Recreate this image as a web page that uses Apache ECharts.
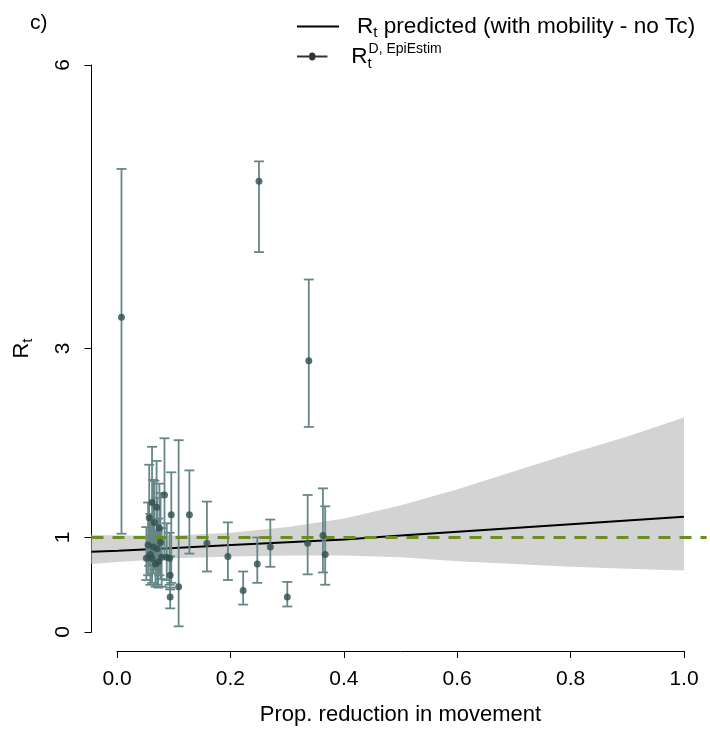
<!DOCTYPE html>
<html><head><meta charset="utf-8">
<script src="https://cdn.jsdelivr.net/npm/echarts@6/dist/echarts.min.js"></script>
<style>html,body{margin:0;padding:0;background:#fff}#c{width:710px;height:731px}</style>
</head><body><div id="c"></div>
<script>
// ---- data ----
const pointX     = [0.006, 0.249, 0.337, 0.126, 0.157, 0.194, 0.221, 0.246, 0.269, 0.299, 0.335, 0.362, 0.366, 0.107, 0.092,
                    0.050, 0.053, 0.055, 0.057, 0.060, 0.060, 0.062, 0.064, 0.066, 0.068, 0.069, 0.071, 0.073, 0.075, 0.077, 0.082, 0.086, 0.091, 0.092, 0.094];
const pointMean  = [3.33, 4.77, 2.87, 1.24, 0.94, 0.80, 0.44, 0.72, 0.90, 0.37, 0.94, 1.02, 0.82, 0.48, 0.37,
                    0.78, 0.92, 1.21, 0.82, 1.37, 0.78, 0.90, 1.16, 0.72, 1.32, 0.88, 0.74, 1.10, 0.95, 0.79, 1.45, 0.79, 0.78, 0.60, 1.24];
const pointLower = [1.04, 4.02, 2.17, 0.83, 0.64, 0.55, 0.29, 0.52, 0.69, 0.27, 0.61, 0.63, 0.50, 0.06, 0.25,
                    0.55, 0.60, 0.70, 0.50, 0.75, 0.52, 0.62, 0.66, 0.48, 0.82, 0.50, 0.47, 0.60, 0.56, 0.48, 0.80, 0.55, 0.50, 0.45, 0.52];
const pointUpper = [4.90, 4.98, 3.73, 1.71, 1.38, 1.16, 0.64, 1.00, 1.19, 0.53, 1.45, 1.52, 1.33, 2.03, 0.47,
                    1.11, 1.37, 1.77, 1.25, 1.96, 1.14, 1.61, 1.60, 1.08, 1.81, 1.42, 1.20, 1.57, 1.47, 1.10, 2.05, 1.15, 1.05, 0.80, 1.69];

const curveX     = [-0.047, 0.0, 0.1, 0.2, 0.3, 0.4, 0.5, 0.6, 0.7, 0.8, 0.9, 1.0];
const curveFit   = [0.85, 0.86, 0.89, 0.92, 0.95, 0.98, 1.02, 1.06, 1.10, 1.14, 1.18, 1.22];
const curveLower = [0.72, 0.74, 0.78, 0.80, 0.81, 0.81, 0.79, 0.75, 0.72, 0.69, 0.67, 0.65];
const curveUpper = [1.03, 1.02, 1.02, 1.05, 1.11, 1.20, 1.34, 1.51, 1.70, 1.89, 2.07, 2.27];

const xTickLabels = ['0.0', '0.2', '0.4', '0.6', '0.8', '1.0'];
const yTickValues = [0, 1, 3, 6];
const refLevel = 1;

// ---- chart ----
const FONT = '"Liberation Sans", Arial, sans-serif';
const barColor = '#668787';
const dotColor = '#2f4f4f';

const chart = echarts.init(document.getElementById('c'), null, {renderer: 'canvas'});

const richBase = {
  r: {fontSize: 22.6, fontFamily: FONT, color: '#000', lineHeight: 28},
  s: {fontSize: 15, fontFamily: FONT, color: '#000', lineHeight: 16, padding: [12, 0, 0, 0]},
  st: {fontSize: 15, fontFamily: FONT, color: '#000', lineHeight: 16, padding: [14, 0, 0, 0], width: 1},
  p: {fontSize: 14, fontFamily: FONT, color: '#000', lineHeight: 16, padding: [0, 0, 14, 0]}
};
const richAxis = {
  r: {fontSize: 22, fontFamily: FONT, color: '#000', lineHeight: 28},
  s: {fontSize: 15, fontFamily: FONT, color: '#000', lineHeight: 16, padding: [12, 0, 0, 0]}
};

const option = {
  animation: false,
  backgroundColor: '#fff',
  title: {text: 'c)', left: 25, top: 8, textStyle: {fontSize: 21, fontWeight: 'normal', color: '#000', fontFamily: FONT}},
  legend: [
    {
      data: [{name: 'pred', icon: 'rect'}],
      left: 297, top: 13, padding: 0, itemWidth: 42, itemHeight: 2,
      formatter: () => '{r|R}{s|t}{r| predicted (with mobility - no Tc)}',
      textStyle: {padding: [0, 0, 0, 13], rich: richBase},
      selectedMode: false
    },
    {
      data: [{name: 'epi', icon: 'path://M0,2.8 H16 A4,4 0 0 1 24,2.8 H40 V5.3 H24 A4,4 0 0 1 16,5.3 H0 Z', itemStyle: {color: '#000'}}],
      left: 297, top: 42, padding: 0, itemWidth: 42, itemHeight: 8,
      formatter: () => '{r|R}{st|t}{p|D, EpiEstim}',
      textStyle: {padding: [0, 0, 0, 13], rich: richBase},
      selectedMode: false
    }
  ],
  grid: [
    {left: 90.5, right: 3.4, top: 65, bottom: 99},
    {left: 117, right: 26, top: 65, bottom: 74}
  ],
  xAxis: [
    {gridIndex: 0, type: 'value', min: -0.047, max: 1.04, show: false},
    {
      gridIndex: 1, type: 'value', min: 0, max: 1, interval: 0.2,
      axisLine: {show: true, onZero: false, lineStyle: {color: '#000', width: 1}},
      axisTick: {show: true, length: 7, inside: false, lineStyle: {color: '#000'}},
      axisLabel: {fontSize: 21, fontFamily: FONT, color: '#000', margin: 18,
                  formatter: (v, i) => xTickLabels[i]},
      splitLine: {show: false},
      name: 'Prop. reduction in movement', nameLocation: 'middle', nameGap: 53,
      nameTextStyle: {fontSize: 22, fontFamily: FONT, color: '#000'}
    }
  ],
  yAxis: [
    {
      gridIndex: 0, type: 'value', min: 0, max: 6, interval: 1,
      axisLine: {show: true, onZero: false, lineStyle: {color: '#000', width: 1}},
      axisTick: {show: true, length: 7, inside: false, customValues: yTickValues, lineStyle: {color: '#000'}},
      axisLabel: {fontSize: 21, fontFamily: FONT, color: '#000', rotate: 90, margin: 18, customValues: yTickValues},
      splitLine: {show: false},
      name: '{r|R}{s|t}', nameLocation: 'middle', nameRotate: 90, nameGap: 56,
      nameTextStyle: {rich: richAxis}
    },
    {gridIndex: 1, type: 'value', min: 0, max: 1, show: false}
  ],
  series: [
    {
      name: 'band', type: 'custom', xAxisIndex: 0, yAxisIndex: 0, z: 1, silent: true,
      data: curveX.map((x, i) => [x, curveLower[i], curveUpper[i]]),
      encode: {x: 0, y: [1, 2]},
      renderItem: (params, api) => {
        if (params.dataIndex !== 0) return null;
        const pts = [];
        for (let i = 0; i < curveX.length; i++) pts.push(api.coord([curveX[i], curveUpper[i]]));
        for (let i = curveX.length - 1; i >= 0; i--) pts.push(api.coord([curveX[i], curveLower[i]]));
        return {type: 'polygon', shape: {points: pts}, style: {fill: '#d3d3d3'}};
      }
    },
    {
      name: 'pred', type: 'line', xAxisIndex: 0, yAxisIndex: 0, z: 3,
      data: curveX.map((x, i) => [x, curveFit[i]]),
      showSymbol: false, symbol: 'none',
      itemStyle: {color: '#000'},
      lineStyle: {color: '#000', width: 2},
      markLine: {
        silent: true, symbol: 'none', label: {show: false},
        lineStyle: {color: '#6b8e23', type: [12, 9], width: 3},
        data: [{yAxis: refLevel}]
      }
    },
    {
      name: 'bars', type: 'custom', xAxisIndex: 0, yAxisIndex: 0, z: 4, silent: true,
      data: pointX.map((x, i) => [x, pointMean[i], pointLower[i], pointUpper[i]]),
      encode: {x: 0, y: [1, 2, 3]},
      renderItem: (params, api) => {
        const x = api.value(0);
        const pl = api.coord([x, api.value(2)]);
        const ph = api.coord([x, api.value(3)]);
        const cw = 5;
        const st = {stroke: barColor, lineWidth: 1.8};
        return {type: 'group', children: [
          {type: 'line', shape: {x1: pl[0], y1: pl[1], x2: ph[0], y2: ph[1]}, style: st},
          {type: 'line', shape: {x1: ph[0] - cw, y1: ph[1], x2: ph[0] + cw, y2: ph[1]}, style: st},
          {type: 'line', shape: {x1: pl[0] - cw, y1: pl[1], x2: pl[0] + cw, y2: pl[1]}, style: st}
        ]};
      }
    },
    {
      name: 'epi', type: 'scatter', xAxisIndex: 0, yAxisIndex: 0, z: 5,
      data: pointX.map((x, i) => [x, pointMean[i]]),
      symbol: 'circle', symbolSize: 7,
      itemStyle: {color: dotColor}
    }
  ]
};
chart.setOption(option);
</script>
</body></html>
